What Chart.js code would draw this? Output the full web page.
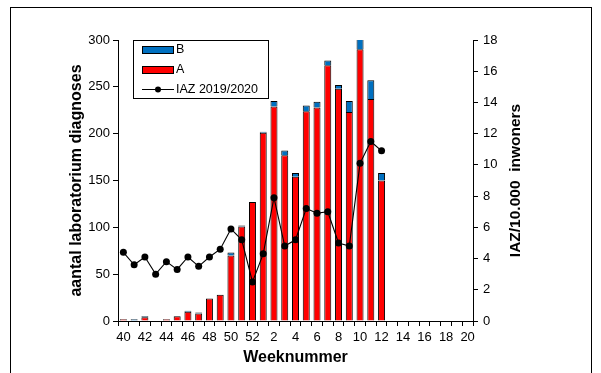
<!DOCTYPE html>
<html lang="nl">
<head>
    <meta charset="UTF-8">
    <title>Laboratoriumdiagnoses per week</title>
    <script src="https://cdn.jsdelivr.net/npm/chart.js"></script>
    <style>
        body {
            margin: 0;
            background: #fff;
        }
        .wrap {
            position: relative;
            width: 601px;
            height: 373px;
            overflow: hidden;
        }
        .frame {
            position: absolute;
            left: 10px;
            top: 7px;
            width: 580px;
            height: 400px;
            border: 1px solid #000;
        }
        canvas {
            position: absolute;
            left: 0;
            top: 0;
        }
    </style>
</head>
<body>
<div class="wrap">
    <div class="frame"></div>
    <canvas id="chart" width="601" height="373"></canvas>
</div>
<script>
    const weeks = [40, 41, 42, 43, 44, 45, 46, 47, 48, 49, 50, 51, 52,
        1, 2, 3, 4, 5, 6, 7, 8, 9, 10, 11, 12, 13, 14, 15, 16, 17, 18, 19, 20];
    const typeA = [2, 0, 4, 0, 2, 5, 10, 8, 24, 28, 70, 101, 127,
        201, 229, 177, 154, 224, 228, 273, 248, 223, 290, 237, 150];
    const typeB = [0, 2, 1, 0, 0, 0, 1, 1, 0, 0, 3, 1, 0,
        1, 6, 5, 4, 6, 6, 5, 4, 12, 13, 20, 8];
    const iaz = [4.4, 3.6, 4.1, 3.0, 3.8, 3.3, 4.1, 3.5, 4.1, 4.6, 5.9, 5.2, 2.5,
        4.3, 7.9, 4.8, 5.2, 7.2, 6.9, 7.0, 5.0, 4.8, 10.1, 11.5, 10.9];

    const font = '"Liberation Sans", Arial, sans-serif';
    const red = '#ff0000';
    const blue = '#0070c0';

    // legend box and right-hand title (drawn by hand, Chart.js can't put them there)
    const extras = {
        id: 'extras',
        afterDraw(chart) {
            const ctx = chart.ctx;
            ctx.save();
            ctx.fillStyle = '#fff';
            ctx.fillRect(133.5, 40.5, 135, 58);
            ctx.strokeStyle = '#000';
            ctx.lineWidth = 1;
            ctx.strokeRect(133.5, 40.5, 135, 58);

            ctx.font = '12.5px ' + font;
            ctx.textBaseline = 'middle';
            const items = [
                { label: 'B', color: blue, y: 50 },
                { label: 'A', color: red, y: 70 }
            ];
            items.forEach(it => {
                ctx.fillStyle = it.color;
                ctx.fillRect(142.5, it.y - 3.5, 31, 7);
                ctx.strokeRect(142.5, it.y - 3.5, 31, 7);
                ctx.fillStyle = '#000';
                ctx.fillText(it.label, 176, it.y);
            });
            ctx.beginPath();
            ctx.moveTo(142, 89.5);
            ctx.lineTo(174, 89.5);
            ctx.stroke();
            ctx.beginPath();
            ctx.arc(158, 89.5, 3, 0, Math.PI * 2);
            ctx.fill();
            ctx.fillText('IAZ 2019/2020', 176, 90);

            ctx.translate(515.5, 180.5);
            ctx.rotate(-Math.PI / 2);
            ctx.font = 'bold 15.5px ' + font;
            ctx.textAlign = 'center';
            ctx.fillText('IAZ/10.000  inwoners', 0, 0);
            ctx.restore();
        }
    };

    new Chart(document.getElementById('chart'), {
        type: 'bar',
        data: {
            labels: weeks,
            datasets: [
                {
                    type: 'line',
                    label: 'IAZ 2019/2020',
                    data: iaz,
                    yAxisID: 'y2',
                    borderColor: '#000',
                    backgroundColor: '#000',
                    borderWidth: 1.1,
                    pointRadius: 3.5,
                    pointBorderWidth: 0,
                    tension: 0
                },
                {
                    label: 'A',
                    data: typeA,
                    backgroundColor: red,
                    borderColor: '#000',
                    borderWidth: 1,
                    barPercentage: 0.65,
                    categoryPercentage: 1
                },
                {
                    label: 'B',
                    data: typeB,
                    backgroundColor: blue,
                    borderColor: '#000',
                    borderWidth: 1,
                    barPercentage: 0.65,
                    categoryPercentage: 1
                }
            ]
        },
        options: {
            responsive: false,
            animation: false,
            layout: { padding: { top: 40, left: 0, right: 0, bottom: 0 } },
            plugins: {
                legend: { display: false },
                tooltip: { enabled: false }
            },
            scales: {
                x: {
                    stacked: true,
                    afterFit: s => { s.height = 52; },
                    grid: { drawOnChartArea: false, tickLength: 5, color: '#000', offset: true },
                    border: { color: '#000' },
                    ticks: {
                        autoSkip: false,
                        maxRotation: 0,
                        padding: 4,
                        color: '#000',
                        font: { family: font, size: 13 },
                        callback: (v, i) => i % 2 === 0 ? weeks[i] : ''
                    },
                    title: {
                        display: true,
                        text: 'Weeknummer',
                        color: '#000',
                        font: { family: font, size: 16, weight: 'bold' },
                        padding: { top: 0, bottom: 6 }
                    }
                },
                y: {
                    stacked: true,
                    min: 0,
                    max: 300,
                    afterFit: s => { s.width = 118; },
                    grid: { drawOnChartArea: false, tickLength: 5, color: '#000' },
                    border: { color: '#000' },
                    ticks: {
                        stepSize: 50,
                        padding: 3,
                        color: '#000',
                        font: { family: font, size: 13 }
                    },
                    title: {
                        display: true,
                        text: 'aantal laboratorium diagnoses',
                        color: '#000',
                        font: { family: font, size: 16, weight: 'bold' },
                        padding: { top: 67, bottom: 0 }
                    }
                },
                y2: {
                    position: 'right',
                    stacked: false,
                    min: 0,
                    max: 18,
                    afterFit: s => { s.width = 128; },
                    grid: { drawOnChartArea: false, tickLength: 5, color: '#000' },
                    border: { color: '#000' },
                    ticks: {
                        stepSize: 2,
                        padding: 5,
                        color: '#000',
                        font: { family: font, size: 13 }
                    }
                }
            }
        },
        plugins: [extras]
    });
</script>
</body>
</html>
